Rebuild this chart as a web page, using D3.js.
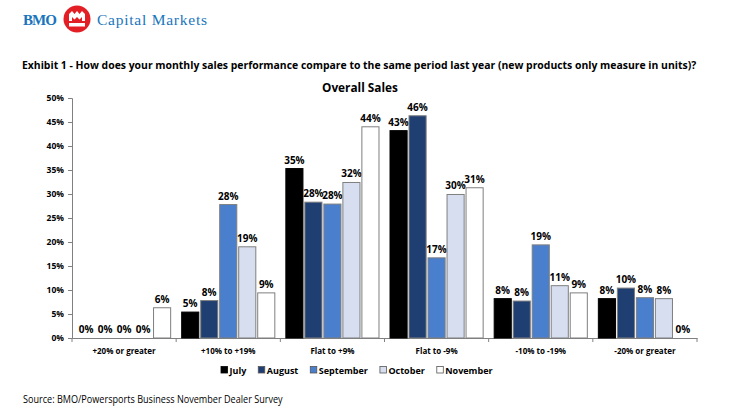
<!DOCTYPE html>
<html>
<head>
<meta charset="utf-8">
<script src="https://cdn.jsdelivr.net/npm/d3@7/dist/d3.min.js"></script>
<style>
  body { margin: 0; background: #fff; }
  svg { display: block; }
  text { font-family: "Open Sans", sans-serif; }
</style>
</head>
<body>
<svg width="730" height="410"></svg>
<script>
const categories = ["+20% or greater", "+10% to +19%", "Flat to +9%", "Flat to -9%", "-10% to -19%", "-20% or greater"];
const months = ["July", "August", "September", "October", "November"];

// share of dealers per month, one array per category (same order as months)
const plus20 = [0, 0, 0, 0, 0.063];
const plus10 = [0.054, 0.078, 0.278, 0.19, 0.094];
const flatPlus = [0.353, 0.283, 0.279, 0.324, 0.44];
const flatMinus = [0.432, 0.463, 0.167, 0.299, 0.313];
const minus10 = [0.082, 0.077, 0.194, 0.109, 0.094];
const minus20 = [0.082, 0.104, 0.084, 0.082, 0];
const seriesByCat = [plus20, plus10, flatPlus, flatMinus, minus10, minus20];

const yTicks = [0, 0.05, 0.1, 0.15, 0.2, 0.25, 0.3, 0.35, 0.4, 0.45, 0.5];
const colors = ["#000000", "#1f3f73", "#4a7fcd", "#d6def0", "#ffffff"];

const svg = d3.select("svg");
const margin = { top: 98, right: 33, bottom: 72, left: 72 };
const width = 730 - margin.left - margin.right;
const height = 410 - margin.top - margin.bottom;

// squeeze a text horizontally so it fills the given width (condensed look)
const fitText = (x, yPos, w, size, weight, str) => {
    const t = svg.append("text").style("font-size", size).style("font-weight", weight).text(str);
    const natural = t.node().getComputedTextLength();
    t.attr("transform", `translate(${x},${yPos}) scale(${w / natural},1)`);
    return t;
};

// header
const blue = "#1a75bc";
svg.append("text").attr("x", 23).attr("y", 25)
    .style("font-family", "Liberation Serif, serif").style("font-size", "15px")
    .style("font-weight", "bold").attr("fill", blue).attr("textLength", 34).text("BMO");
const logo = svg.append("g").attr("transform", "translate(77,19)");
logo.append("circle").attr("r", 13.5).attr("fill", "#e31f26");
logo.append("path").attr("fill", "#fff")
    .attr("d", "M-8,2 L-8,-5 L-5,-8 L-2.5,-5 L0,-8 L2.5,-5 L5,-8 L8,-5 L8,2 Z");
logo.append("path").attr("fill", "#e31f26")
    .attr("d", "M-5,2 L-5,-2 L-2.5,0.5 L0,-2 L2.5,0.5 L5,-2 L5,2 Z");
logo.append("rect").attr("x", -8).attr("y", 4).attr("width", 16).attr("height", 3.5).attr("fill", "#fff");
svg.append("text").attr("x", 97).attr("y", 25)
    .style("font-family", "Liberation Serif, serif").style("font-size", "15.5px")
    .attr("fill", blue).attr("textLength", 110).text("Capital Markets");

fitText(22, 69, 675, "11px", "bold",
    "Exhibit 1 - How does your monthly sales performance compare to the same period last year (new products only measure in units)?");
fitText(322, 92, 76, "12.5px", "bold", "Overall Sales");

const chart = svg.append("g")
    .attr("transform", `translate(${margin.left},${margin.top})`);

const x0 = d3.scaleBand().domain(categories).range([0, width]);
const x1 = d3.scaleBand().domain(months).range([0, x0.bandwidth()])
    .paddingInner(0.1).paddingOuter(0.29);
const y = d3.scaleLinear().domain([0, 0.5]).range([height, 0]);
const pct = d3.format(".0%");

// y axis
const yAxis = chart.append("g")
    .call(d3.axisLeft(y).tickValues(yTicks).tickFormat(pct).tickSize(4).tickPadding(4));
yAxis.select(".domain").attr("stroke", "#808080");
yAxis.selectAll(".tick line").attr("stroke", "#808080");
yAxis.selectAll("text").style("font-size", "8.5px").style("font-weight", "bold")
    .style("font-family", "Open Sans, sans-serif");

// x axis
const xAxis = chart.append("g").attr("transform", `translate(0,${height})`)
    .call(d3.axisBottom(x0).tickSize(0).tickPadding(10));
xAxis.select(".domain").attr("stroke", "#808080");
xAxis.selectAll("text").style("font-size", "8px").style("font-weight", "bold")
    .style("font-family", "Open Sans, sans-serif");
xAxis.selectAll(".sep")
    .data(categories.map(c => x0(c)).concat([width]))
    .enter().append("line")
    .attr("x1", d => d).attr("x2", d => d).attr("y1", 0).attr("y2", 4)
    .attr("stroke", "#808080");

// bars
const groups = chart.selectAll(".grp")
    .data(categories)
    .enter().append("g")
    .attr("transform", d => `translate(${x0(d)},0)`);

const cells = groups.selectAll("g")
    .data((c, i) => months.map((m, j) => ({ month: m, idx: j, value: seriesByCat[i][j] })))
    .enter().append("g");

cells.filter(d => d.value > 0).append("rect")
    .attr("x", d => x1(d.month))
    .attr("y", d => y(d.value))
    .attr("width", x1.bandwidth())
    .attr("height", d => height - y(d.value))
    .attr("fill", d => colors[d.idx])
    .attr("stroke", d => d.idx === 0 ? "#000" : "#7f7f7f")
    .attr("stroke-width", 1);

cells.append("text")
    .attr("x", d => x1(d.month) + x1.bandwidth() / 2)
    .attr("y", d => y(d.value) - 5)
    .attr("text-anchor", "middle")
    .style("font-size", "10px").style("font-weight", "bold")
    .text(d => pct(d.value));

// legend
const legend = svg.append("g").attr("transform", "translate(221,370)");
let lx = 0;
months.forEach((m, i) => {
    const g = legend.append("g").attr("transform", `translate(${lx},0)`);
    g.append("rect").attr("x", 0).attr("y", -3.5).attr("width", 6.5).attr("height", 6.5)
        .attr("fill", colors[i]).attr("stroke", i === 0 ? "#000" : "#555").attr("stroke-width", 0.8);
    const t = g.append("text").attr("x", 8.5).attr("y", 3.5)
        .style("font-size", "9px").style("font-weight", "bold").text(m);
    lx += 8.5 + t.node().getComputedTextLength() + 12;
});

fitText(23, 403, 260, "10px", "normal", "Source: BMO/Powersports Business November Dealer Survey");
</script>
</body>
</html>
